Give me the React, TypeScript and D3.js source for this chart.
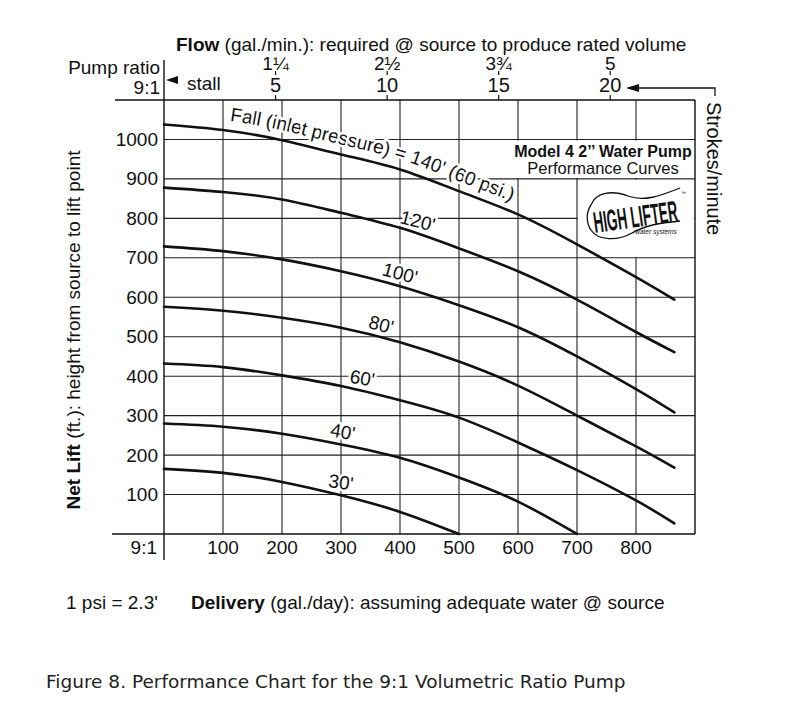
import React from "react";
import * as d3 from "d3";

const W = 785;
const H = 709;

// Axis ticks
const deliveryTicks = [100, 200, 300, 400, 500, 600, 700, 800];
const liftTicks = [100, 200, 300, 400, 500, 600, 700, 800, 900, 1000];
const strokeTicks = [5, 10, 15, 20];
const flowTicks = ["1¼", "2½", "3¾", "5"];

// Curves: [delivery gal/day, net lift ft]
const fall30 = [[0, 165], [100, 155], [200, 132], [300, 98], [400, 56], [500, 0]];
const fall40 = [[0, 280], [100, 272], [200, 254], [300, 227], [400, 193], [500, 143], [600, 82], [700, 0]];
const fall60 = [[0, 432], [100, 423], [200, 402], [300, 375], [400, 339], [500, 295], [600, 232], [700, 162], [800, 85], [865, 27]];
const fall80 = [[0, 576], [100, 566], [200, 548], [300, 523], [400, 486], [500, 437], [600, 376], [700, 300], [800, 222], [865, 168]];
const fall100 = [[0, 729], [100, 717], [200, 696], [300, 666], [400, 628], [500, 580], [600, 524], [700, 450], [800, 367], [865, 308]];
const fall120 = [[0, 878], [100, 867], [200, 848], [300, 814], [400, 776], [500, 724], [600, 666], [700, 594], [800, 512], [865, 461]];
const fall140 = [[0, 1038], [100, 1024], [200, 998], [300, 962], [400, 924], [500, 869], [600, 810], [700, 734], [800, 651], [865, 594]];

const fallNames = ["30'", "40'", "60'", "80'", "100'", "120'"];
const fallSeries = [fall30, fall40, fall60, fall80, fall100, fall120];
// where each fall label sits along its curve (delivery value) and its tilt
const labelAt = [300, 303, 336, 368, 400, 430];
const labelTilt = [8, 10, 10, 15, 15, 14];

const FONT = "'Liberation Sans', Arial, Helvetica, sans-serif";
const FS = 19;

export default function App() {
  const x = d3.scaleLinear().domain([0, 900]).range([164, 695]);
  const y = d3.scaleLinear().domain([0, 1100]).range([534, 100]);
  const s = d3.scaleLinear().domain([0, 23.8]).range([164, 695]);

  const line = d3
    .line<number[]>()
    .x((d) => x(d[0]))
    .y((d) => y(d[1]))
    .curve(d3.curveNatural);
  const fallTextPath = d3
    .line<number[]>()
    .x((d) => x(d[0]))
    .y((d) => y(d[1]) - 10)
    .curve(d3.curveNatural)(fall140);

  const all = [...fallSeries, fall140];
  const halo = { stroke: "#fff", strokeWidth: 5, paintOrder: "stroke" as const, strokeLinejoin: "round" as const };

  return (
    <svg
      width={W}
      height={H}
      viewBox={`0 0 ${W} ${H}`}
      style={{ position: "absolute", left: 0, top: 0, display: "block", background: "#fff" }}
      fontFamily={FONT}
    >
      <rect x={0} y={0} width={W} height={H} fill="#fff" />

      {/* grid */}
      <g stroke="#222" strokeWidth={1.1}>
        {liftTicks.map((t) => (
          <line key={"h" + t} x1={x(0)} x2={x(900)} y1={y(t)} y2={y(t)} />
        ))}
        {deliveryTicks.map((t) => (
          <line key={"v" + t} x1={x(t)} x2={x(t)} y1={y(1100)} y2={y(0)} />
        ))}
      </g>

      {/* title box and logo area */}
      <rect x={x(500) + 1} y={y(1000) + 1} width={x(900) - x(500) - 2} height={y(900) - y(1000) - 2} fill="#fff" />
      <rect x={x(700) + 1} y={y(900) + 1} width={x(900) - x(700) - 2} height={y(700) - y(900) - 2} fill="#fff" />

      {/* frame */}
      <g stroke="#111" strokeWidth={1.4} fill="none">
        <line x1={115} x2={x(900)} y1={y(1100)} y2={y(1100)} />
        <line x1={112} x2={x(900)} y1={y(0)} y2={y(0)} />
        <line x1={x(0)} x2={x(0)} y1={60} y2={560} />
        <line x1={x(900)} x2={x(900)} y1={y(1100)} y2={y(0)} />
      </g>

      {/* curves */}
      <g fill="none" stroke="#111" strokeWidth={2.6} strokeLinecap="round">
        {all.map((d, i) => (
          <path key={i} d={line(d) || ""} />
        ))}
      </g>

      {/* fall labels */}
      <g fontSize={FS} fill="#111">
        {fallSeries.map((d, i) => {
          const interp = d3.scaleLinear().domain(d.map((p) => p[0])).range(d.map((p) => p[1]));
          const lx = labelAt[i];
          const cx = x(lx);
          const cy = y(interp(lx)) - 13;
          return (
            <text
              key={i}
              transform={`translate(${cx},${cy}) rotate(${labelTilt[i]})`}
              textAnchor="middle"
              dominantBaseline="central"
              {...halo}
            >
              {fallNames[i]}
            </text>
          );
        })}
      </g>
      <defs>
        <path id="fallPath" d={fallTextPath || ""} />
      </defs>
      <text fontSize={FS} fill="#111" {...halo}>
        <textPath href="#fallPath" startOffset={66}>
          Fall (inlet pressure) = 140' (60 psi.)
        </textPath>
      </text>

      {/* title */}
      <text x={603} y={157} textAnchor="middle" fontSize={16} fontWeight="bold" fill="#111">
        Model 4 2’’ Water Pump
      </text>
      <text x={603} y={174} textAnchor="middle" fontSize={16.5} fill="#111">
        Performance Curves
      </text>

      {/* logo */}
      <g fill="none" stroke="#111" strokeWidth={1.3}>
        <path d="M591,205 C596,192 612,190 628,196 S660,196 680,188" />
        <path d="M591,230 C598,241 618,241 632,233 S660,223 680,221" />
        <path d="M591,205 C586,212 586,223 591,230" />
      </g>
      <text
        transform="translate(595,233) rotate(-8) scale(0.45,1)"
        fontSize={30}
        fontWeight="bold"
        fill="#111"
      >
        HIGH LIFTER
      </text>
      <text x={681} y={195} fontSize={5} fill="#111">™</text>
      <text x={656} y={234} textAnchor="middle" fontSize={6.5} fontStyle="italic" fill="#111">
        water systems
      </text>

      {/* y axis */}
      <g fontSize={FS} fill="#111" textAnchor="end">
        {liftTicks.map((t) => (
          <text key={t} x={158} y={y(t)} dominantBaseline="central">
            {t}
          </text>
        ))}
      </g>
      <text transform="translate(80,330) rotate(-90)" textAnchor="middle" fontSize={FS} fill="#111">
        <tspan fontWeight="bold">Net Lift</tspan> (ft.): height from source to lift point
      </text>

      {/* bottom axis */}
      <g fontSize={FS} fill="#111" textAnchor="middle">
        {deliveryTicks.map((t) => (
          <text key={t} x={x(t)} y={554}>
            {t}
          </text>
        ))}
      </g>
      <text x={157} y={554} textAnchor="end" fontSize={FS} fill="#111">9:1</text>
      <text x={66} y={609} fontSize={FS} fill="#111">1 psi = 2.3'</text>
      <text x={191} y={609} fontSize={FS} fill="#111">
        <tspan fontWeight="bold">Delivery</tspan> (gal./day): assuming adequate water @ source
      </text>

      {/* top axis */}
      <text x={176} y={51} fontSize={FS} fill="#111">
        <tspan fontWeight="bold">Flow</tspan> (gal./min.): required @ source to produce rated volume
      </text>
      <text x={160} y={74} textAnchor="end" fontSize={FS} fill="#111">Pump ratio</text>
      <text x={160} y={94} textAnchor="end" fontSize={FS} fill="#111">9:1</text>
      <polygon points="166,80 178,76 178,84" fill="#111" />
      <text x={187} y={90} fontSize={FS} fill="#111">stall</text>
      <g stroke="#111" strokeWidth={1.2}>
        {strokeTicks.map((t) => (
          <g key={t}>
            <line x1={s(t)} x2={s(t)} y1={95} y2={y(1100)} />
            <line x1={s(t)} x2={s(t)} y1={71} y2={75} />
          </g>
        ))}
      </g>
      <g fill="#111" textAnchor="middle">
        {strokeTicks.map((t, i) => (
          <g key={t}>
            <text x={s(t)} y={70} fontSize={FS}>{flowTicks[i]}</text>
            <text x={s(t)} y={92} fontSize={FS + 1}>{t}</text>
          </g>
        ))}
      </g>

      {/* strokes/minute bracket */}
      <path d="M628,88 L715,88 L715,96" fill="none" stroke="#111" strokeWidth={1.3} />
      <polygon points="626,88 639,84 639,92" fill="#111" />
      <text transform="translate(707,102) rotate(90)" fontSize={20} fill="#111">
        Strokes/minute
      </text>

      {/* caption */}
      <text x={46} y={688} fontSize={18.5} fontFamily="'DejaVu Sans', Verdana, sans-serif" fill="#222">
        Figure 8. Performance Chart for the 9:1 Volumetric Ratio Pump
      </text>
    </svg>
  );
}
